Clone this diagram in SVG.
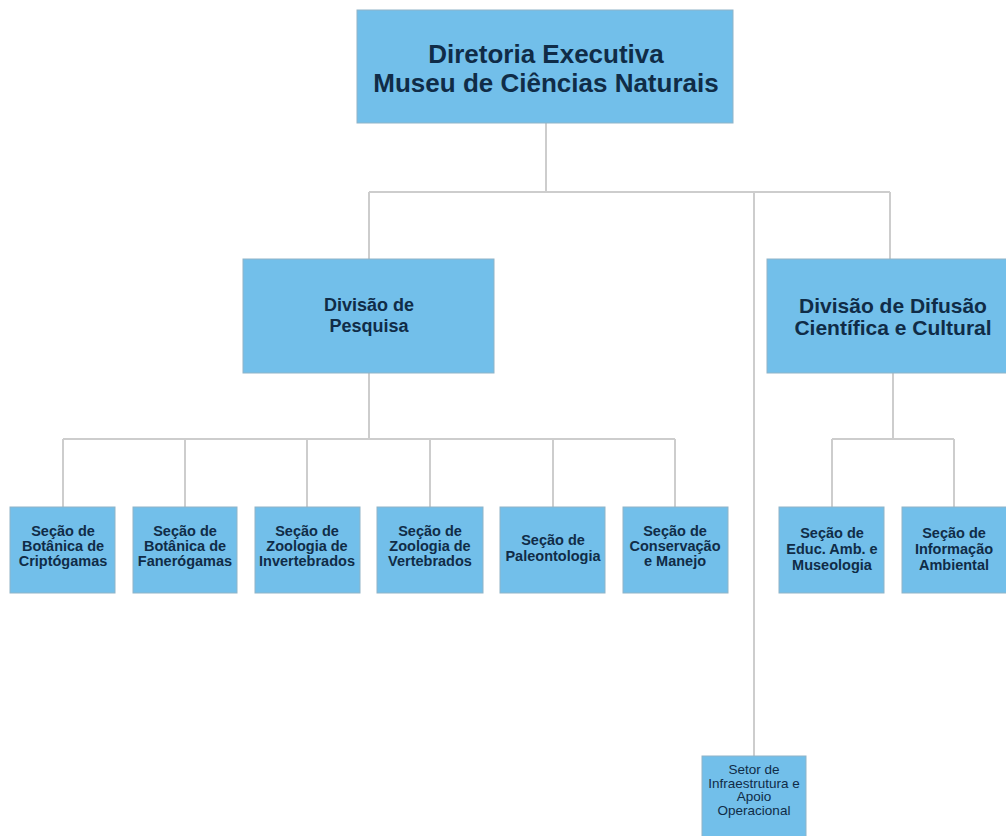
<svg xmlns="http://www.w3.org/2000/svg" width="1006" height="836" viewBox="0 0 1006 836">
<style>
.box{fill:#72bfea;stroke:#8fb4c8;stroke-width:1}
.t{font-family:"Liberation Sans",Arial,sans-serif;font-weight:bold;fill:#102c47;text-anchor:middle}
.n{font-family:"Liberation Sans",Arial,sans-serif;font-weight:normal;fill:#102c47;text-anchor:middle}
.c{fill:none;stroke:#cdcdcd;stroke-width:2}
</style>
<rect width="1006" height="836" fill="#ffffff"/>
<g id="connectors">
<path class="c" d="M546 123V192M369 192H890M369 192V259M890 192V259M754 192V756"/>
<path class="c" d="M369 373V439M63 439H675M63 439V507M185 439V507M307 439V507M430 439V507M553 439V507M675 439V507"/>
<path class="c" d="M893 373V439M832 439H954M832 439V507M954 439V507"/>
</g>
<g id="diretoria">
<rect class="box" x="357" y="10" width="376" height="113"/>
<text class="t" font-size="26" x="546" y="63">Diretoria Executiva</text>
<text class="t" font-size="26" x="546" y="92">Museu de Ciências Naturais</text>
</g>
<g id="div-pesquisa">
<rect class="box" x="243" y="259" width="251" height="114"/>
<text class="t" font-size="18" x="369" y="311">Divisão de</text>
<text class="t" font-size="18" x="369" y="332">Pesquisa</text>
</g>
<g id="div-difusao">
<rect class="box" x="767" y="259" width="245" height="114"/>
<text class="t" font-size="21" x="893" y="313">Divisão de Difusão</text>
<text class="t" font-size="21" x="893" y="335">Científica e Cultural</text>
</g>
<g id="sec-cripto">
<rect class="box" x="10" y="507" width="105" height="86"/>
<text class="t" font-size="14.5" x="63" y="536">Seção de</text>
<text class="t" font-size="14.5" x="63" y="551">Botânica de</text>
<text class="t" font-size="14.5" x="63" y="566">Criptógamas</text>
</g>
<g id="sec-fanero">
<rect class="box" x="133" y="507" width="104" height="86"/>
<text class="t" font-size="14.5" x="185" y="536">Seção de</text>
<text class="t" font-size="14.5" x="185" y="551">Botânica de</text>
<text class="t" font-size="14.5" x="185" y="566">Fanerógamas</text>
</g>
<g id="sec-invert">
<rect class="box" x="255" y="507" width="105" height="86"/>
<text class="t" font-size="14.5" x="307" y="536">Seção de</text>
<text class="t" font-size="14.5" x="307" y="551">Zoologia de</text>
<text class="t" font-size="14.5" x="307" y="566">Invertebrados</text>
</g>
<g id="sec-vert">
<rect class="box" x="377" y="507" width="106" height="86"/>
<text class="t" font-size="14.5" x="430" y="536">Seção de</text>
<text class="t" font-size="14.5" x="430" y="551">Zoologia de</text>
<text class="t" font-size="14.5" x="430" y="566">Vertebrados</text>
</g>
<g id="sec-paleo">
<rect class="box" x="500" y="507" width="105" height="86"/>
<text class="t" font-size="14.5" x="553" y="545">Seção de</text>
<text class="t" font-size="14.5" x="553" y="561">Paleontologia</text>
</g>
<g id="sec-conserv">
<rect class="box" x="623" y="507" width="105" height="86"/>
<text class="t" font-size="14.5" x="675" y="536">Seção de</text>
<text class="t" font-size="14.5" x="675" y="551">Conservação</text>
<text class="t" font-size="14.5" x="675" y="566">e Manejo</text>
</g>
<g id="sec-educ">
<rect class="box" x="779" y="507" width="105" height="86"/>
<text class="t" font-size="14.5" x="832" y="538">Seção de</text>
<text class="t" font-size="14.5" x="832" y="554">Educ. Amb. e</text>
<text class="t" font-size="14.5" x="832" y="570">Museologia</text>
</g>
<g id="sec-info">
<rect class="box" x="902" y="507" width="105" height="86"/>
<text class="t" font-size="14.5" x="954" y="538">Seção de</text>
<text class="t" font-size="14.5" x="954" y="554">Informação</text>
<text class="t" font-size="14.5" x="954" y="570">Ambiental</text>
</g>
<g id="setor-infra">
<rect class="box" x="702" y="756" width="104" height="84"/>
<text class="n" font-size="13.5" x="754" y="774">Setor de</text>
<text class="n" font-size="13.5" x="754" y="788">Infraestrutura e</text>
<text class="n" font-size="13.5" x="754" y="801">Apoio</text>
<text class="n" font-size="13.5" x="754" y="815">Operacional</text>
</g>
</svg>
